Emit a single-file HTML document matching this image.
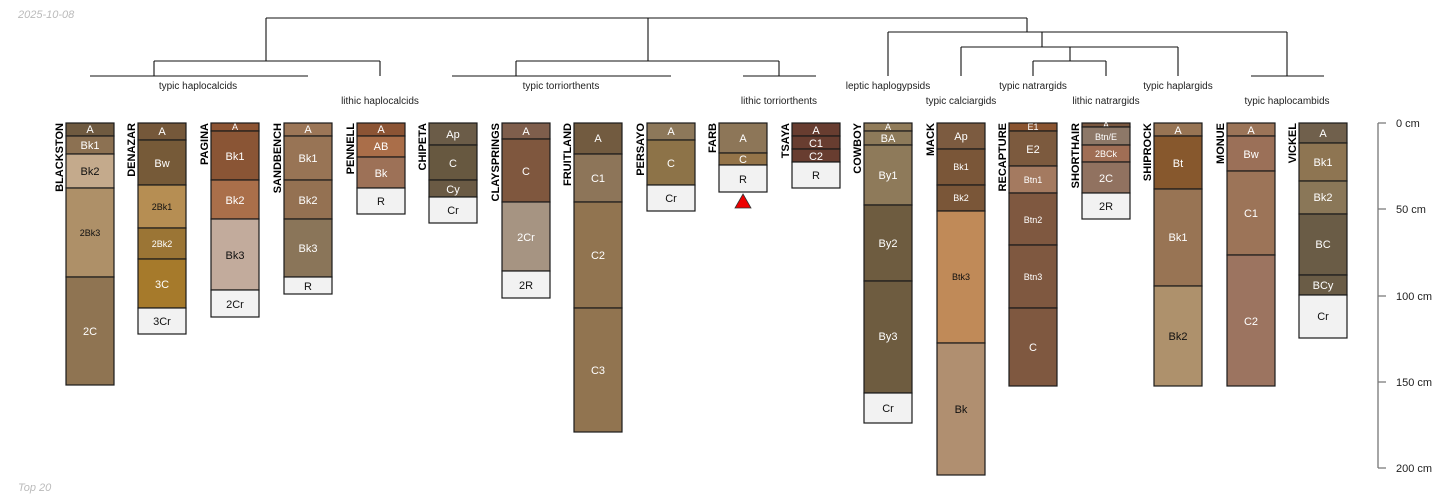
<!DOCTYPE html>
<html><head><meta charset="utf-8"><style>
html,body{margin:0;padding:0;background:#fff;width:1450px;height:500px;overflow:hidden}
svg{display:block;font-family:"Liberation Sans",sans-serif}
.h{stroke:#1a1a1a;stroke-width:1.2}
.w{fill:#fff;font-size:11px;text-anchor:middle}
.b{fill:#111;font-size:11px;text-anchor:middle}
.s{font-size:9px}
.n{font-size:11px;font-weight:bold;fill:#000;text-anchor:end}
.d{stroke:#111;stroke-width:1.1;fill:none}
.lab{font-size:10px;fill:#222;text-anchor:middle}
</style></head><body>
<svg width="1450" height="500" viewBox="0 0 1450 500" xmlns="http://www.w3.org/2000/svg">
<text x="18" y="18" font-size="11" font-style="italic" fill="#bbb">2025-10-08</text>
<text x="18" y="491" font-size="11" font-style="italic" fill="#bbb">Top 20</text>

<!-- dendrogram -->
<g class="d">
<path d="M266 18H1027"/>
<path d="M266 18V61M154 61H380M154 61V76M380 61V76M90 76H308"/>
<path d="M648 18V61M516 61H779M516 61V76M779 61V76M452 76H671M743 76H816"/>
<path d="M1027 18V32M888 32H1287M888 32V76M1042 32V47M961 47H1178M961 47V76M1178 47V76M1070 47V61M1033 61H1106M1033 61V76M1106 61V76M1287 32V76M1251 76H1324"/>
</g>
<text class="lab" x="198" y="89">typic haplocalcids</text>
<text class="lab" x="380" y="104">lithic haplocalcids</text>
<text class="lab" x="561" y="89">typic torriorthents</text>
<text class="lab" x="779" y="104">lithic torriorthents</text>
<text class="lab" x="888" y="89">leptic haplogypsids</text>
<text class="lab" x="961" y="104">typic calciargids</text>
<text class="lab" x="1033" y="89">typic natrargids</text>
<text class="lab" x="1106" y="104">lithic natrargids</text>
<text class="lab" x="1178" y="89">typic haplargids</text>
<text class="lab" x="1287" y="104">typic haplocambids</text>

<!-- BLACKSTON -->
<text class="n" transform="translate(63,123) rotate(-90)">BLACKSTON</text>
<g transform="translate(66,0)">
<rect class="h" y="123" width="48" height="13" fill="#6f5a40"/><text class="w" x="24" y="133">A</text>
<rect class="h" y="136" width="48" height="18" fill="#8c7152"/><text class="w" x="24" y="149">Bk1</text>
<rect class="h" y="154" width="48" height="34" fill="#c4aa8c"/><text class="b" x="24" y="175">Bk2</text>
<rect class="h" y="188" width="48" height="89" fill="#ae9068"/><text class="b s" x="24" y="236">2Bk3</text>
<rect class="h" y="277" width="48" height="108" fill="#8f7452"/><text class="w" x="24" y="335">2C</text>
</g>
<!-- DENAZAR -->
<text class="n" transform="translate(135,123) rotate(-90)">DENAZAR</text>
<g transform="translate(138,0)">
<rect class="h" y="123" width="48" height="17" fill="#75583a"/><text class="w" x="24" y="135">A</text>
<rect class="h" y="140" width="48" height="45" fill="#765a38"/><text class="w" x="24" y="167">Bw</text>
<rect class="h" y="185" width="48" height="43" fill="#b68e53"/><text class="b s" x="24" y="210">2Bk1</text>
<rect class="h" y="228" width="48" height="31" fill="#9b7535"/><text class="w s" x="24" y="247">2Bk2</text>
<rect class="h" y="259" width="48" height="49" fill="#a67a2b"/><text class="w" x="24" y="288">3C</text>
<rect class="h" y="308" width="48" height="26" fill="#f2f2f2"/><text class="b" x="24" y="325">3Cr</text>
</g>
<!-- PAGINA -->
<text class="n" transform="translate(208,123) rotate(-90)">PAGINA</text>
<g transform="translate(211,0)">
<rect class="h" y="123" width="48" height="8" fill="#8d5433"/><text class="w s" x="24" y="130">A</text>
<rect class="h" y="131" width="48" height="49" fill="#8a5535"/><text class="w" x="24" y="160">Bk1</text>
<rect class="h" y="180" width="48" height="39" fill="#aa6f4a"/><text class="w" x="24" y="204">Bk2</text>
<rect class="h" y="219" width="48" height="71" fill="#c2ab9c"/><text class="b" x="24" y="259">Bk3</text>
<rect class="h" y="290" width="48" height="27" fill="#f2f2f2"/><text class="b" x="24" y="308">2Cr</text>
</g>
<!-- SANDBENCH -->
<text class="n" transform="translate(281,123) rotate(-90)">SANDBENCH</text>
<g transform="translate(284,0)">
<rect class="h" y="123" width="48" height="13" fill="#9c7657"/><text class="w" x="24" y="133">A</text>
<rect class="h" y="136" width="48" height="44" fill="#987455"/><text class="w" x="24" y="162">Bk1</text>
<rect class="h" y="180" width="48" height="39" fill="#947152"/><text class="w" x="24" y="204">Bk2</text>
<rect class="h" y="219" width="48" height="58" fill="#8a7559"/><text class="w" x="24" y="252">Bk3</text>
<rect class="h" y="277" width="48" height="17" fill="#f2f2f2"/><text class="b" x="24" y="290">R</text>
</g>
<!-- PENNELL -->
<text class="n" transform="translate(354,123) rotate(-90)">PENNELL</text>
<g transform="translate(357,0)">
<rect class="h" y="123" width="48" height="13" fill="#8c5434"/><text class="w" x="24" y="133">A</text>
<rect class="h" y="136" width="48" height="21" fill="#aa6e49"/><text class="w" x="24" y="150">AB</text>
<rect class="h" y="157" width="48" height="31" fill="#9d7157"/><text class="w" x="24" y="177">Bk</text>
<rect class="h" y="188" width="48" height="26" fill="#f2f2f2"/><text class="b" x="24" y="205">R</text>
</g>
<!-- CHIPETA -->
<text class="n" transform="translate(426,123) rotate(-90)">CHIPETA</text>
<g transform="translate(429,0)">
<rect class="h" y="123" width="48" height="22" fill="#6b5c48"/><text class="w" x="24" y="138">Ap</text>
<rect class="h" y="145" width="48" height="35" fill="#675840"/><text class="w" x="24" y="167">C</text>
<rect class="h" y="180" width="48" height="17" fill="#6a5a44"/><text class="w" x="24" y="193">Cy</text>
<rect class="h" y="197" width="48" height="26" fill="#f2f2f2"/><text class="b" x="24" y="214">Cr</text>
</g>
<!-- CLAYSPRINGS -->
<text class="n" transform="translate(499,123) rotate(-90)">CLAYSPRINGS</text>
<g transform="translate(502,0)">
<rect class="h" y="123" width="48" height="16" fill="#7f5e4c"/><text class="w" x="24" y="135">A</text>
<rect class="h" y="139" width="48" height="63" fill="#7f573e"/><text class="w" x="24" y="175">C</text>
<rect class="h" y="202" width="48" height="69" fill="#a69482"/><text class="w" x="24" y="241">2Cr</text>
<rect class="h" y="271" width="48" height="27" fill="#f2f2f2"/><text class="b" x="24" y="289">2R</text>
</g>
<!-- FRUITLAND -->
<text class="n" transform="translate(571,123) rotate(-90)">FRUITLAND</text>
<g transform="translate(574,0)">
<rect class="h" y="123" width="48" height="31" fill="#725b40"/><text class="w" x="24" y="142">A</text>
<rect class="h" y="154" width="48" height="48" fill="#8d7559"/><text class="w" x="24" y="182">C1</text>
<rect class="h" y="202" width="48" height="106" fill="#917450"/><text class="w" x="24" y="259">C2</text>
<rect class="h" y="308" width="48" height="124" fill="#917450"/><text class="w" x="24" y="374">C3</text>
</g>
<!-- PERSAYO -->
<text class="n" transform="translate(644,123) rotate(-90)">PERSAYO</text>
<g transform="translate(647,0)">
<rect class="h" y="123" width="48" height="17" fill="#8d785a"/><text class="w" x="24" y="135">A</text>
<rect class="h" y="140" width="48" height="45" fill="#8d7348"/><text class="w" x="24" y="167">C</text>
<rect class="h" y="185" width="48" height="26" fill="#f2f2f2"/><text class="b" x="24" y="202">Cr</text>
</g>
<!-- FARB -->
<text class="n" transform="translate(716,123) rotate(-90)">FARB</text>
<g transform="translate(719,0)">
<rect class="h" y="123" width="48" height="30" fill="#8d7658"/><text class="w" x="24" y="142">A</text>
<rect class="h" y="153" width="48" height="12" fill="#947449"/><text class="w" x="24" y="163">C</text>
<rect class="h" y="165" width="48" height="27" fill="#f2f2f2"/><text class="b" x="24" y="183">R</text>
<polygon points="24,194 32,208 16,208" fill="#ee0000" stroke="#333" stroke-width="0.8"/>
</g>
<!-- TSAYA -->
<text class="n" transform="translate(789,123) rotate(-90)">TSAYA</text>
<g transform="translate(792,0)">
<rect class="h" y="123" width="48" height="13" fill="#683d30"/><text class="w" x="24" y="134">A</text>
<rect class="h" y="136" width="48" height="13" fill="#683d30"/><text class="w" x="24" y="147">C1</text>
<rect class="h" y="149" width="48" height="13" fill="#683d30"/><text class="w" x="24" y="160">C2</text>
<rect class="h" y="162" width="48" height="26" fill="#f2f2f2"/><text class="b" x="24" y="179">R</text>
</g>
<!-- COWBOY -->
<text class="n" transform="translate(861,123) rotate(-90)">COWBOY</text>
<g transform="translate(864,0)">
<rect class="h" y="123" width="48" height="8" fill="#917c5a"/><text class="w s" x="24" y="130">A</text>
<rect class="h" y="131" width="48" height="14" fill="#8d7a5a"/><text class="w" x="24" y="142">BA</text>
<rect class="h" y="145" width="48" height="60" fill="#8e7a5a"/><text class="w" x="24" y="179">By1</text>
<rect class="h" y="205" width="48" height="76" fill="#6e5c40"/><text class="w" x="24" y="247">By2</text>
<rect class="h" y="281" width="48" height="112" fill="#6e5c40"/><text class="w" x="24" y="340">By3</text>
<rect class="h" y="393" width="48" height="30" fill="#f2f2f2"/><text class="b" x="24" y="412">Cr</text>
</g>
<!-- MACK -->
<text class="n" transform="translate(934,123) rotate(-90)">MACK</text>
<g transform="translate(937,0)">
<rect class="h" y="123" width="48" height="26" fill="#7c5b40"/><text class="w" x="24" y="140">Ap</text>
<rect class="h" y="149" width="48" height="36" fill="#7a5638"/><text class="w s" x="24" y="170">Bk1</text>
<rect class="h" y="185" width="48" height="26" fill="#7a5638"/><text class="w s" x="24" y="201">Bk2</text>
<rect class="h" y="211" width="48" height="132" fill="#c08a58"/><text class="b s" x="24" y="280">Btk3</text>
<rect class="h" y="343" width="48" height="132" fill="#b08f70"/><text class="b" x="24" y="413">Bk</text>
</g>
<!-- RECAPTURE -->
<text class="n" transform="translate(1006,123) rotate(-90)">RECAPTURE</text>
<g transform="translate(1009,0)">
<rect class="h" y="123" width="48" height="8" fill="#8a5430"/><text class="w s" x="24" y="130">E1</text>
<rect class="h" y="131" width="48" height="35" fill="#7c5a3e"/><text class="w" x="24" y="153">E2</text>
<rect class="h" y="166" width="48" height="27" fill="#a47a60"/><text class="w s" x="24" y="183">Btn1</text>
<rect class="h" y="193" width="48" height="52" fill="#7f5840"/><text class="w s" x="24" y="223">Btn2</text>
<rect class="h" y="245" width="48" height="63" fill="#7f5840"/><text class="w s" x="24" y="280">Btn3</text>
<rect class="h" y="308" width="48" height="78" fill="#7f5840"/><text class="w" x="24" y="351">C</text>
</g>
<!-- SHORTHAIR -->
<text class="n" transform="translate(1079,123) rotate(-90)">SHORTHAIR</text>
<g transform="translate(1082,0)">
<rect class="h" y="123" width="48" height="4" fill="#7a5840"/><text class="w s" x="24" y="128">A</text>
<rect class="h" y="127" width="48" height="18" fill="#8d7868"/><text class="w s" x="24" y="140">Btn/E</text>
<rect class="h" y="145" width="48" height="17" fill="#a06e55"/><text class="w s" x="24" y="157">2BCk</text>
<rect class="h" y="162" width="48" height="31" fill="#917260"/><text class="w" x="24" y="182">2C</text>
<rect class="h" y="193" width="48" height="26" fill="#f2f2f2"/><text class="b" x="24" y="210">2R</text>
</g>
<!-- SHIPROCK -->
<text class="n" transform="translate(1151,123) rotate(-90)">SHIPROCK</text>
<g transform="translate(1154,0)">
<rect class="h" y="123" width="48" height="13" fill="#977454"/><text class="w" x="24" y="134">A</text>
<rect class="h" y="136" width="48" height="53" fill="#87582d"/><text class="w" x="24" y="167">Bt</text>
<rect class="h" y="189" width="48" height="97" fill="#987454"/><text class="w" x="24" y="241">Bk1</text>
<rect class="h" y="286" width="48" height="100" fill="#ae916c"/><text class="b" x="24" y="340">Bk2</text>
</g>
<!-- MONUE -->
<text class="n" transform="translate(1224,123) rotate(-90)">MONUE</text>
<g transform="translate(1227,0)">
<rect class="h" y="123" width="48" height="13" fill="#9b7458"/><text class="w" x="24" y="134">A</text>
<rect class="h" y="136" width="48" height="35" fill="#9b7058"/><text class="w" x="24" y="158">Bw</text>
<rect class="h" y="171" width="48" height="84" fill="#9c7458"/><text class="w" x="24" y="217">C1</text>
<rect class="h" y="255" width="48" height="131" fill="#9c7460"/><text class="w" x="24" y="325">C2</text>
</g>
<!-- VICKEL -->
<text class="n" transform="translate(1296,123) rotate(-90)">VICKEL</text>
<g transform="translate(1299,0)">
<rect class="h" y="123" width="48" height="20" fill="#70604c"/><text class="w" x="24" y="137">A</text>
<rect class="h" y="143" width="48" height="38" fill="#8e7552"/><text class="w" x="24" y="166">Bk1</text>
<rect class="h" y="181" width="48" height="33" fill="#8a7758"/><text class="w" x="24" y="201">Bk2</text>
<rect class="h" y="214" width="48" height="61" fill="#6a5c46"/><text class="w" x="24" y="248">BC</text>
<rect class="h" y="275" width="48" height="20" fill="#6a5c46"/><text class="w" x="24" y="289">BCy</text>
<rect class="h" y="295" width="48" height="43" fill="#f2f2f2"/><text class="b" x="24" y="320">Cr</text>
</g>

<!-- depth axis -->
<g stroke="#777" stroke-width="1.3" fill="none">
<path d="M1378 123V468M1378 123H1386M1378 209H1386M1378 296H1386M1378 382H1386M1378 468H1386"/>
</g>
<g font-size="11" fill="#222">
<text x="1396" y="127">0 cm</text>
<text x="1396" y="213">50 cm</text>
<text x="1396" y="300">100 cm</text>
<text x="1396" y="386">150 cm</text>
<text x="1396" y="472">200 cm</text>
</g>
</svg>
</body></html>
